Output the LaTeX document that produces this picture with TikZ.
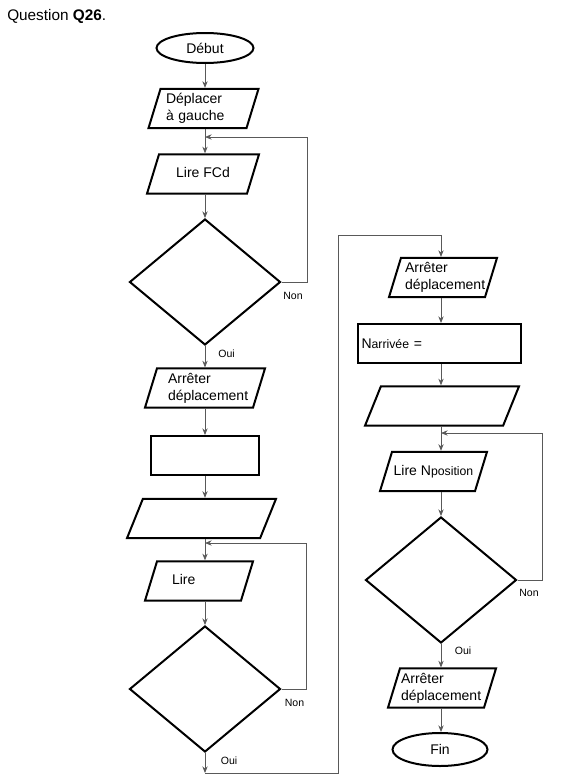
\documentclass[tikz,border=0pt]{standalone}
\usepackage{fontspec}
\setmainfont{Liberation Sans}
\usepackage{tikz}
\usetikzlibrary{shapes.geometric,arrows.meta}
\hyphenpenalty=10000
\newcommand{\indice}[1]{{\fontsize{9.2}{11}\selectfont #1}}

\begin{document}
\begin{tikzpicture}[x=0.75pt,y=-0.75pt,
        >={Stealth[length=5pt,width=4pt]},
        box/.style={draw=black,line width=1.5pt,font=\fontsize{10.5}{12.75}\selectfont},
        term/.style={box,shape=ellipse,inner sep=0pt},
        io/.style={box,shape=trapezium,trapezium left angle=73,trapezium right angle=107,
            trapezium stretches body,inner xsep=0pt,inner ysep=3.4pt},
        oneline/.style={io,text height=8pt,text depth=2.5pt,inner ysep=9.5pt},
        wideio/.style={io,trapezium left angle=68,trapezium right angle=112,inner ysep=14.75pt},
        act/.style={box,shape=rectangle,inner sep=0pt,minimum height=29.25pt},
        test/.style={box,shape=diamond,inner sep=0pt,minimum width=113.25pt,minimum height=94.5pt},
        lbl/.style={font=\fontsize{7.9}{9}\selectfont,inner sep=0pt},
        line/.style={draw=black!65,line width=0.6pt}]
        \useasboundingbox (0,0) rectangle (577,782);

        \node[anchor=base west,inner sep=0pt,font=\fontsize{11.5}{14}\selectfont] (titre) at (7,20) {Question \textbf{Q26}.};

        % left column
        \node[term,minimum width=72.75pt,minimum height=22.5pt] (debut) at (205,48) {Début};
        \node[io,minimum width=82.5pt,text width=56.25pt,align=left] (depl) at (203.5,108.5) {Déplacer\\à gauche};
        \node[oneline,minimum width=84pt] (lirefcd) at (203,174) {Lire FCd};
        \node[test] (dia1) at (205,282) {};
        \node[io,minimum width=90pt,text width=55.5pt,align=left] (arr1) at (205,388) {Arrêter\\déplacement};
        \node[act,minimum width=81pt] (calc1) at (205,455.5) {};
        \node[wideio,minimum width=111.75pt] (ecr1) at (201.5,518.5) {};
        \node[oneline,minimum width=81pt,text width=40.5pt,align=left] (lire) at (199,581) {Lire};
        \node[test] (dia2) at (205,689) {};

        % right column
        \node[io,minimum width=81pt,text width=57pt,align=left] (arr2) at (443,277.5) {Arrêter\\déplacement};
        \node[act,minimum width=122.25pt,text width=117pt,align=left] (narr) at (439.5,343.5) {N\indice{arrivée} =};
        \node[wideio,minimum width=115.5pt] (ecr2) at (442,406) {};
        \node[oneline,minimum width=80.25pt] (lirenpos) at (433.5,471.5) {Lire N\indice{position}};
        \node[test] (dia3) at (441,580) {};
        \node[io,minimum width=81pt,text width=61.5pt,align=left] (arr3) at (442,688) {Arrêter\\déplacement};
        \node[term,minimum width=71.25pt,minimum height=24.75pt] (fin) at (440,749.5) {Fin};

        % junctions
        \coordinate (j1) at (205,137);
        \coordinate (j2) at (205,543);
        \coordinate (j3) at (441,433);
        \coordinate (j4) at (205,773);
        \coordinate (j5) at (338,235);

        % labels
        \node[lbl] (non1) at (293,296) {Non};
        \node[lbl] (oui1) at (226.5,353.5) {Oui};
        \node[lbl] (non2) at (294.5,703) {Non};
        \node[lbl] (oui2) at (229,760.5) {Oui};
        \node[lbl] (non3) at (529,593) {Non};
        \node[lbl] (oui3) at (463,650.5) {Oui};

        % left flow
        \draw[line,->] (debut.south) -- (dia1 |- depl.north);
        \draw[line,->] (dia1 |- depl.south) -- (dia1 |- lirefcd.north);
        \draw[line,->] (dia1 |- lirefcd.south) -- (dia1.north);
        \draw[line,->] (dia1.south) -- (dia1 |- arr1.north);
        \draw[line,->] (dia1 |- arr1.south) -- (dia1 |- calc1.north);
        \draw[line,->] (dia1 |- calc1.south) -- (dia1 |- ecr1.north);
        \draw[line,->] (dia1 |- ecr1.south) -- (dia1 |- lire.north);
        \draw[line,->] (dia1 |- lire.south) -- (dia2.north);
        \draw[line,->] (dia2.south) -- (j4);
        \draw[line,->] (dia1.east) -- ++(26,0) |- (j1);
        \draw[line,->] (dia2.east) -- ++(25,0) |- (j2);

        % to the right column
        \draw[line,->] (j4) -| (j5) -| (dia3 |- arr2.north);

        % right flow
        \draw[line,->] (dia3 |- arr2.south) -- (dia3 |- narr.north);
        \draw[line,->] (dia3 |- narr.south) -- (dia3 |- ecr2.north);
        \draw[line,->] (dia3 |- ecr2.south) -- (dia3 |- lirenpos.north);
        \draw[line,->] (dia3 |- lirenpos.south) -- (dia3.north);
        \draw[line,->] (dia3.south) -- (dia3 |- arr3.north);
        \draw[line,->] (dia3 |- arr3.south) -- (dia3 |- fin.north);
        \draw[line,->] (dia3.east) -- ++(25,0) |- (j3);
\end{tikzpicture}
\end{document}
